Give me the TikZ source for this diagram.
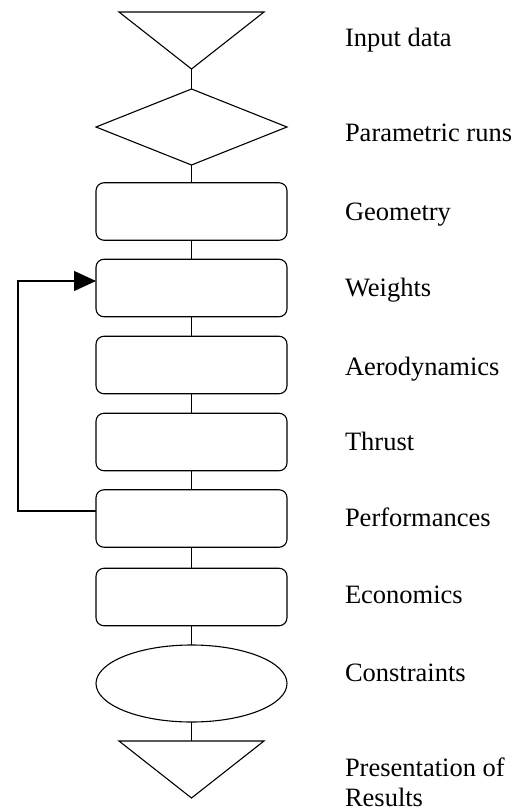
\documentclass[tikz,border=0pt]{standalone}
\usepackage{fontspec}
\setmainfont{Liberation Serif}
\usetikzlibrary{shapes.geometric,arrows.meta}
\begin{document}
\begin{tikzpicture}[x=1pt,y=-1pt,line width=1.1pt,
  stepbox/.style={draw, rectangle, rounded corners=8pt, minimum width=191pt, minimum height=57.5pt, inner sep=0pt, outer sep=0pt},
  decbox/.style={draw, diamond, minimum width=191pt, minimum height=76pt, inner sep=0pt, outer sep=0pt},
  ellbox/.style={draw, ellipse, minimum width=191pt, minimum height=77pt, inner sep=0pt, outer sep=0pt},
  lbl/.style={anchor=base west, inner sep=0pt, outer sep=0pt, align=left, font=\fontsize{26.5pt}{29.3pt}\selectfont},
  conn/.style={draw}]
\useasboundingbox (0,0) rectangle (522,809);
% input triangle
\draw (119,12) -- (264,12) -- (191.5,69) -- cycle;
\coordinate (inapex) at (191.5,69);
\node[decbox] (param) at (191.5,127) {};
\node[stepbox] (geo) at (191.5,211.5) {};
\node[stepbox] (wei) at (191.5,288) {};
\node[stepbox] (aero) at (191.5,365) {};
\node[stepbox] (thr) at (191.5,442) {};
\node[stepbox] (perf) at (191.5,518.5) {};
\node[stepbox] (eco) at (191.5,597) {};
\node[ellbox] (con) at (191.5,683.5) {};
% output triangle
\draw (119,741) -- (264,741) -- (191.5,798) -- cycle;
\coordinate (outtop) at (191.5,741);
% connectors
\draw[conn] (inapex) -- (param.north);
\draw[conn] (param.south) -- (geo.north);
\draw[conn] (geo.south) -- (wei.north);
\draw[conn] (wei.south) -- (aero.north);
\draw[conn] (aero.south) -- (thr.north);
\draw[conn] (thr.south) -- (perf.north);
\draw[conn] (perf.south) -- (eco.north);
\draw[conn] (eco.south) -- (con.north);
\draw[conn] (con.south) -- (outtop);
\coordinate (fbl) at (18,511);
\draw[conn, -{Triangle[length=22pt,width=20pt]}] ([yshift=7.5pt]perf.west) -- (fbl) |- ([yshift=7pt]wei.west);
% labels
\node[lbl] (l1) at (345,46.7) {Input data};
\node[lbl] (l2) at (345,141.7) {Parametric runs};
\node[lbl] (l3) at (345,220) {Geometry};
\node[lbl] (l4) at (345,296) {Weights};
\node[lbl] (l5) at (345,375) {Aerodynamics};
\node[lbl] (l6) at (345,450.7) {Thrust};
\node[lbl] (l7) at (345,526.7) {Performances};
\node[lbl] (l8) at (345,603) {Economics};
\node[lbl] (l9) at (345,681.7) {Constraints};
\node[lbl] (l10) at (345,806) {Presentation of\\Results};
\end{tikzpicture}
\end{document}
